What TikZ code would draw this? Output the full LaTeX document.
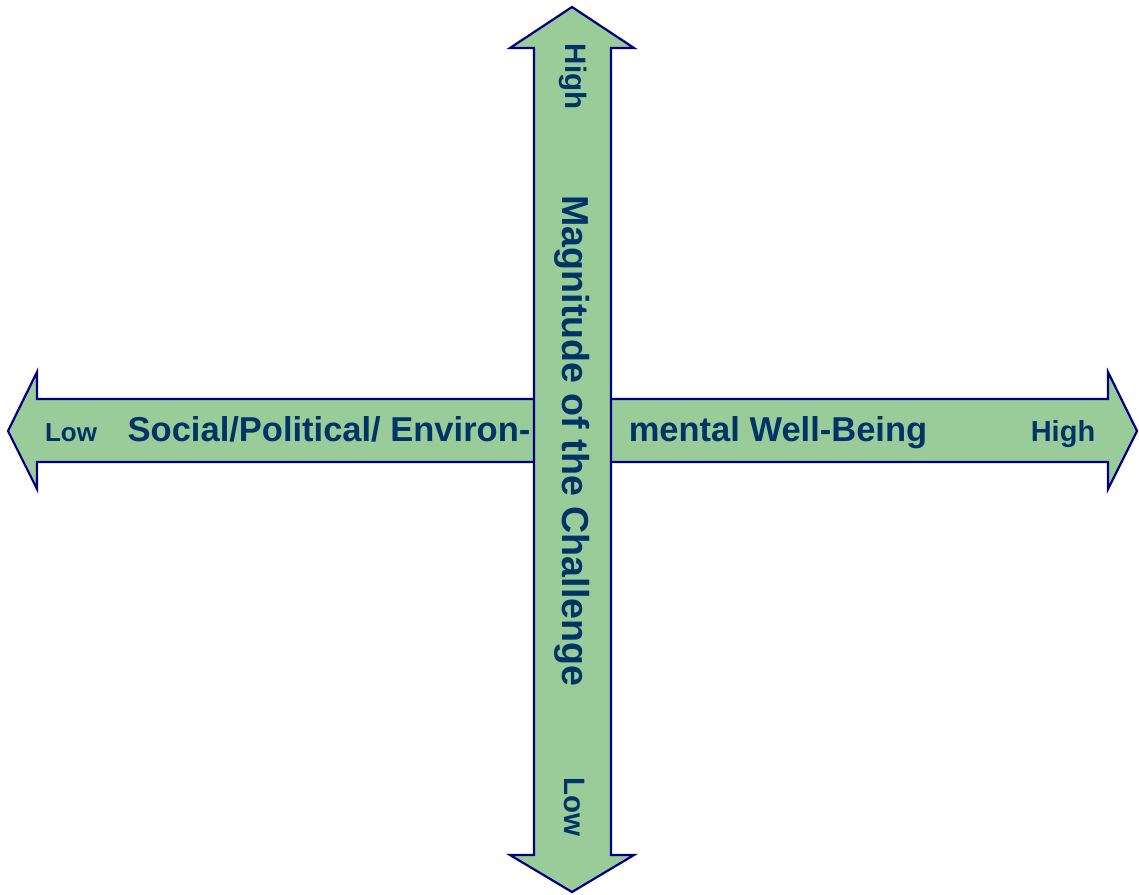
\documentclass[tikz,border=0pt]{standalone}
\usepackage{fontspec}
\setmainfont{Liberation Sans}
\definecolor{axisfill}{HTML}{99CC99}
\definecolor{axisline}{HTML}{000080}
\definecolor{axistext}{HTML}{003366}

\begin{document}
\begin{tikzpicture}[x=1pt,y=-1pt,
  axis/.style={fill=axisfill,draw=axisline,line width=2.2pt,line join=miter},
  lbl/.style={text=axistext,font=\bfseries\fontsize{34.5}{40}\selectfont,anchor=base,inner sep=0pt},
  tag/.style={lbl,font=\bfseries\fontsize{26}{30}\selectfont},
  vtag/.style={lbl,font=\bfseries\fontsize{29.5}{34}\selectfont,rotate=-90}]
\useasboundingbox (0,0) rectangle (1139,894);
% horizontal double arrow
\draw[axis] (8,431) -- (37,372) -- (37,399) -- (1108,399) -- (1108,372) -- (1137,431)
  -- (1108,489) -- (1108,462) -- (37,462) -- (37,489) -- cycle;
\node[tag] (lowH) at (71,441.5) {Low};
\node[lbl] (wellL) at (329,441.5) {Social/Political/ Environ-};
\node[lbl] (wellR) at (778,441.5) {mental Well-Being};
\node[tag,font=\bfseries\fontsize{29}{34}\selectfont] (highH) at (1063,441.5) {High};
% vertical double arrow
\draw[axis] (572,7) -- (634,48) -- (611,48) -- (611,855) -- (634,855) -- (572,892)
  -- (510,855) -- (534,855) -- (534,48) -- (510,48) -- cycle;
\node[vtag] (highV) at (565,76.5) {High};
\node[lbl,rotate=-90,font=\bfseries\fontsize{37.6}{42}\selectfont] (magn) at (562,441) {Magnitude of the Challenge};
\node[vtag] (lowV) at (564,807) {Low};
\end{tikzpicture}
\end{document}
